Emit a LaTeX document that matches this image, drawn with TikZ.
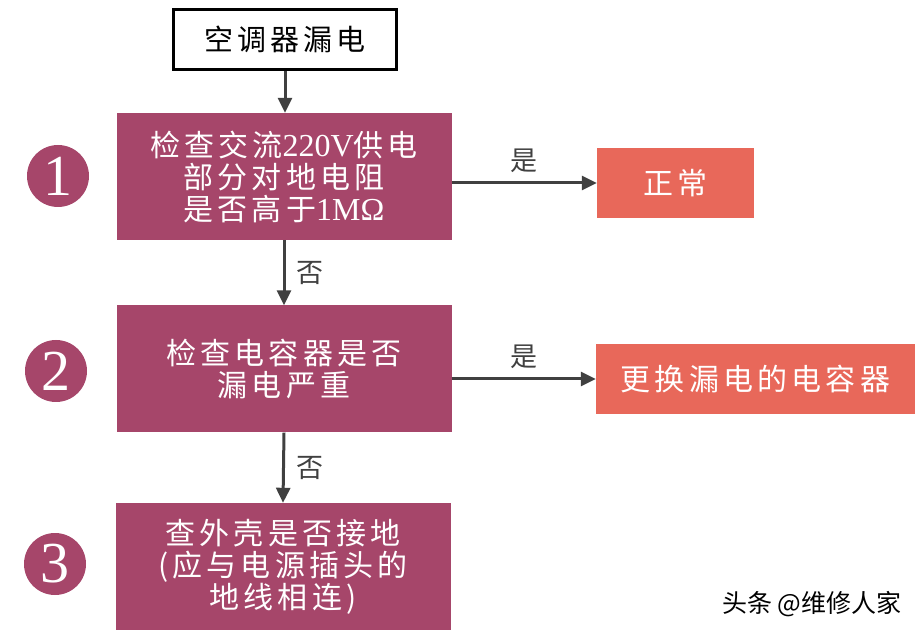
\documentclass[tikz,border=0pt]{standalone}
\usepackage{fontspec}
\setmainfont{Liberation Serif}
\newfontfamily\cjk[LetterSpace=14]{Noto Sans CJK SC}
\newfontfamily\cjkplain{Noto Sans CJK SC}
\usetikzlibrary{arrows.meta}
\definecolor{checkred}{RGB}{166,70,106}
\definecolor{resultred}{RGB}{232,104,90}
\definecolor{arrowgray}{RGB}{64,64,64}
\newcommand{\latin}[1]{{\rmfamily\fontsize{32}{32}\selectfont #1}}

\begin{document}
\begin{tikzpicture}[x=1pt, y=-1pt,
  check/.style={fill=checkred, text=white, minimum width=335pt, minimum height=127pt,
    align=center, font=\fontsize{30}{32}\cjk},
  result/.style={fill=resultred, text=white, minimum height=70pt, font=\fontsize{30}{30}\cjk},
  num/.style={circle, fill=checkred, text=white, minimum size=62pt, inner sep=0pt,
    font=\fontsize{58}{58}\selectfont},
  flow/.style={arrowgray, line width=3pt, -{Triangle[length=15pt,width=14pt]}},
  answer/.style={text=arrowgray, font=\fontsize{27}{27}\cjkplain}]
  \useasboundingbox (0,0) rectangle (922,636);
  % start
  \node[draw=black, line width=3pt, fill=white, minimum width=223pt, minimum height=60pt,
    font=\fontsize{29}{29}\cjk] (leak) at (285,39.5) {空调器漏电};
  % check steps
  \node[check] (c1) at (284,176.5) {检查交流\latin{220V}供电\\部分对地电阻\\是否高于\latin{1MΩ}};
  \node[check] (c2) at (284,369) {检查电容器是否\\漏电严重};
  \node[check] (c3) at (283,566.5) {查外壳是否接地\\(应与电源插头的\\地线相连)};
  \node[num] (n1) at (58,176) {1};
  \node[num] (n2) at (56,371) {2};
  \node[num] (n3) at (55,564) {3};
  % results
  \node[result, minimum width=157pt] (ok) at (675.5,183) {正常};
  \node[result, minimum width=319pt] (swap) at (755.5,379) {更换漏电的电容器};
  % arrows
  \draw[flow] (leak.south) -- (leak.south |- c1.north);
  \draw[flow] (c1.south) -- (c2.north) node[midway, right=8pt, answer] {否};
  \draw[flow] (c2.south) -- (c3.north) node[midway, right=8pt, answer] {否};
  \draw[flow] (c1.east |- ok.west) -- (ok.west) node[midway, above=5pt, answer] {是};
  \draw[flow] (c2.east |- swap.west) -- (swap.west) node[midway, above=5pt, answer] {是};
  % watermark
  \node[anchor=east, font=\fontsize{25}{25}\cjkplain] (mark) at (905,604) {头条 @维修人家};
\end{tikzpicture}
\end{document}
